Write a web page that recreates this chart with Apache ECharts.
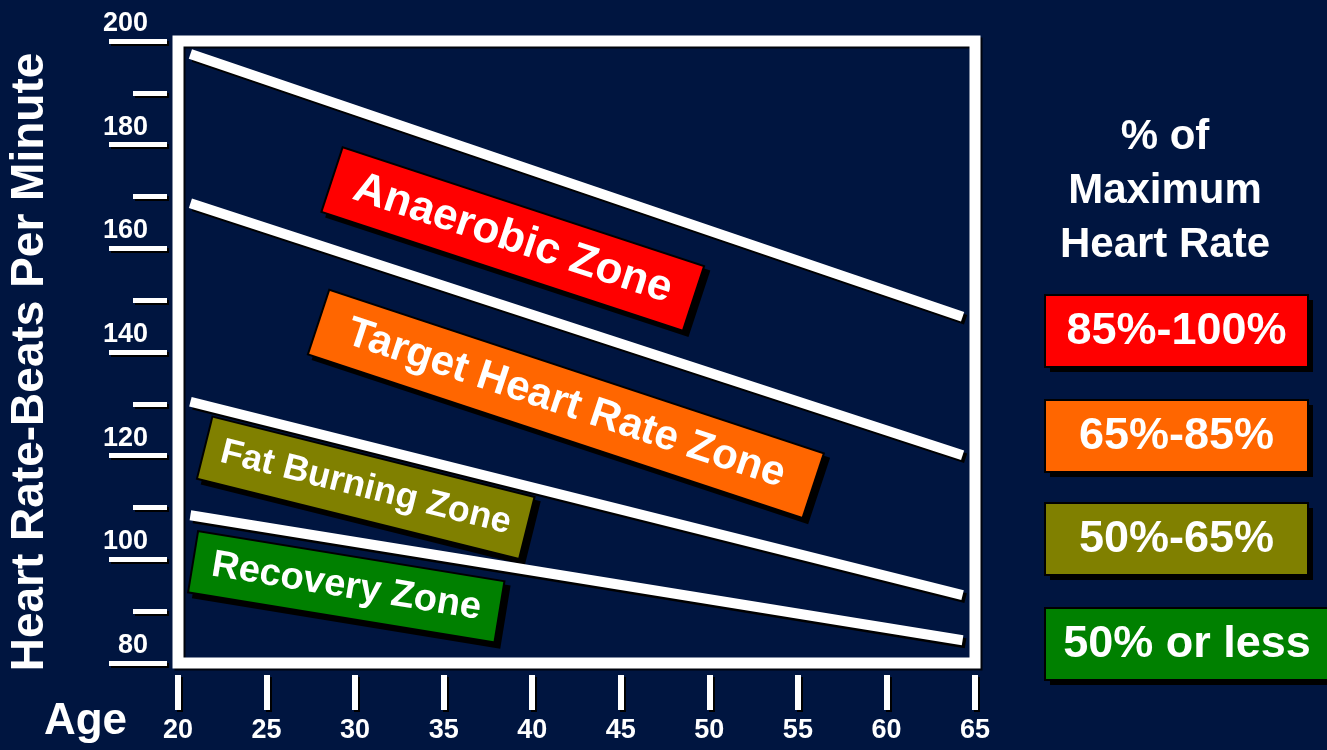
<!DOCTYPE html>
<html>
<head>
<meta charset="utf-8">
<title>Heart Rate Zones</title>
<script src="https://cdn.jsdelivr.net/npm/echarts@6/dist/echarts.min.js"></script>
<style>
  html, body { margin: 0; padding: 0; background: #001540; }
  #chart { width: 1327px; height: 750px; }
</style>
</head>
<body>
<div id="chart"></div>
<script>
// data
var ageMin = 20, ageMax = 65, ageStep = 5;
var rateMin = 80, rateMax = 200, rateStep = 20;
var lineAges = [20.7, 64.3];
var line100 = [197.5, 146.8];
var line85 = [168.7, 120.1];
var line65 = [130.4, 93.1];
var line50 = [108.5, 84.4];
var zoneNames = ['Anaerobic Zone', 'Target Heart Rate Zone', 'Fat Burning Zone', 'Recovery Zone'];
var zoneAges = [38.9, 41.9, 30.6, 29.5];
var zoneRates = [161.8, 130.0, 113.8, 94.7];
var rangeLabels = ['85%-100%', '65%-85%', '50%-65%', '50% or less'];

// styles
var FONT = '"Liberation Sans", Arial, sans-serif';
var zoneColors = ['#ff0000', '#ff6600', '#808000', '#008000'];
var zoneAngles = [-18.2, -18.3, -14, -9.3];
var zoneFont = [44, 42, 36, 38];
var zonePad = [[11, 23], [12, 30], [13, 16], [11, 18]];

var myChart = echarts.init(document.getElementById('chart'));

function linePts(vals) {
  var out = [];
  for (var i = 0; i < lineAges.length; i++) out.push([lineAges[i], vals[i]]);
  return out;
}

var lineStyle = {
  color: '#ffffff', width: 10, cap: 'butt',
  shadowColor: '#000', shadowOffsetX: 3, shadowOffsetY: 3
};
var series = [line100, line85, line65, line50].map(function (v) {
  return {
    type: 'line', data: linePts(v), symbol: 'none', silent: true,
    lineStyle: lineStyle
  };
});

// zone tags, anchored in data coordinates
series.push({
  type: 'scatter',
  symbolSize: 1,
  itemStyle: { color: 'rgba(0,0,0,0)', opacity: 1 },
  silent: true,
  data: zoneNames.map(function (n, i) {
    return {
      name: n,
      value: [zoneAges[i], zoneRates[i]],
      label: {
        show: true,
        position: 'inside',
        formatter: '{b}',
        opacity: 1,
        rotate: zoneAngles[i],
        fontSize: zoneFont[i],
        fontWeight: 'bold',
        fontFamily: FONT,
        color: '#fff',
        backgroundColor: zoneColors[i],
        borderColor: '#000',
        borderWidth: 2,
        padding: zonePad[i],
        shadowColor: '#000',
        shadowOffsetX: 5,
        shadowOffsetY: 5
      }
    };
  })
});

var shadowTxt = { textShadowColor: '#000', textShadowOffsetX: 2, textShadowOffsetY: 2, textShadowBlur: 0 };

var graphics = [
  {
    type: 'text', x: 30, y: 362, rotation: Math.PI / 2,
    style: {
      text: 'Heart Rate-Beats Per Minute', fill: '#fff',
      font: 'bold 46px ' + FONT, textAlign: 'center', textVerticalAlign: 'middle',
      textShadowColor: '#000', textShadowOffsetX: 3, textShadowOffsetY: 3
    }
  },
  {
    type: 'text', x: 127, y: 722,
    style: {
      text: 'Age', fill: '#fff', font: 'bold 44px ' + FONT,
      textAlign: 'right', textVerticalAlign: 'middle',
      textShadowColor: '#000', textShadowOffsetX: 3, textShadowOffsetY: 3
    }
  },
  {
    type: 'text', x: 1165, y: 191,
    style: {
      text: '% of\nMaximum\nHeart Rate', fill: '#fff', font: 'bold 42px ' + FONT,
      lineHeight: 54, textAlign: 'center', textVerticalAlign: 'middle',
      textShadowColor: '#000', textShadowOffsetX: 3, textShadowOffsetY: 3
    }
  }
];

// legend boxes on the right
var boxTops = [295, 400, 503, 608];
rangeLabels.forEach(function (t, i) {
  var w = i === 3 ? 290 : 263;
  graphics.push({
    type: 'rect', x: 1050, y: boxTops[i] + 5,
    shape: { width: w, height: 72 },
    style: { fill: '#000' }
  });
  graphics.push({
    type: 'rect', x: 1045, y: boxTops[i],
    shape: { width: w, height: 72 },
    style: { fill: zoneColors[i], stroke: '#000', lineWidth: 2 }
  });
  graphics.push({
    type: 'text', x: 1045 + (i === 3 ? 142 : 131.5), y: boxTops[i] + 37,
    style: {
      text: t, fill: '#fff', font: 'bold 45px ' + FONT,
      textAlign: 'center', textVerticalAlign: 'middle'
    }
  });
});

myChart.setOption({
  backgroundColor: '#001540',
  animation: false,
  grid: {
    left: 178, right: 352, top: 41, bottom: 87,
    outerBoundsMode: 'none',
    containLabel: false,
    show: true,
    borderColor: '#ffffff',
    borderWidth: 11,
    backgroundColor: 'rgba(0,0,0,0)',
    shadowColor: 'rgba(0,0,0,0.8)',
    shadowOffsetX: 2,
    shadowOffsetY: 2
  },
  xAxis: {
    type: 'value', min: ageMin, max: ageMax, interval: ageStep,
    offset: 12,
    axisLine: { show: false },
    splitLine: { show: false },
    axisTick: {
      show: true, length: 35,
      lineStyle: { color: '#fff', width: 6, shadowColor: '#000', shadowOffsetX: 2, shadowOffsetY: 2 }
    },
    axisLabel: Object.assign({
      margin: 42, color: '#fff', fontSize: 27, fontWeight: 'bold', fontFamily: FONT,
      showMinLabel: true, showMaxLabel: true
    }, shadowTxt)
  },
  yAxis: {
    type: 'value', min: rateMin, max: rateMax, interval: rateStep,
    offset: 11,
    axisLine: { show: false },
    splitLine: { show: false },
    axisTick: {
      show: true, length: 58,
      lineStyle: { color: '#fff', width: 5, shadowColor: '#000', shadowOffsetX: 2, shadowOffsetY: 2 }
    },
    minorTick: {
      show: true, splitNumber: 2, length: 34,
      lineStyle: { color: '#fff', width: 5, shadowColor: '#000', shadowOffsetX: 2, shadowOffsetY: 2 }
    },
    axisLabel: Object.assign({
      margin: 19, color: '#fff', fontSize: 27, fontWeight: 'bold', fontFamily: FONT,
      verticalAlign: 'bottom', lineHeight: 27, padding: [0, 0, 4, 0],
      showMinLabel: true, showMaxLabel: true
    }, shadowTxt)
  },
  graphic: graphics,
  series: series
});
</script>
</body>
</html>
